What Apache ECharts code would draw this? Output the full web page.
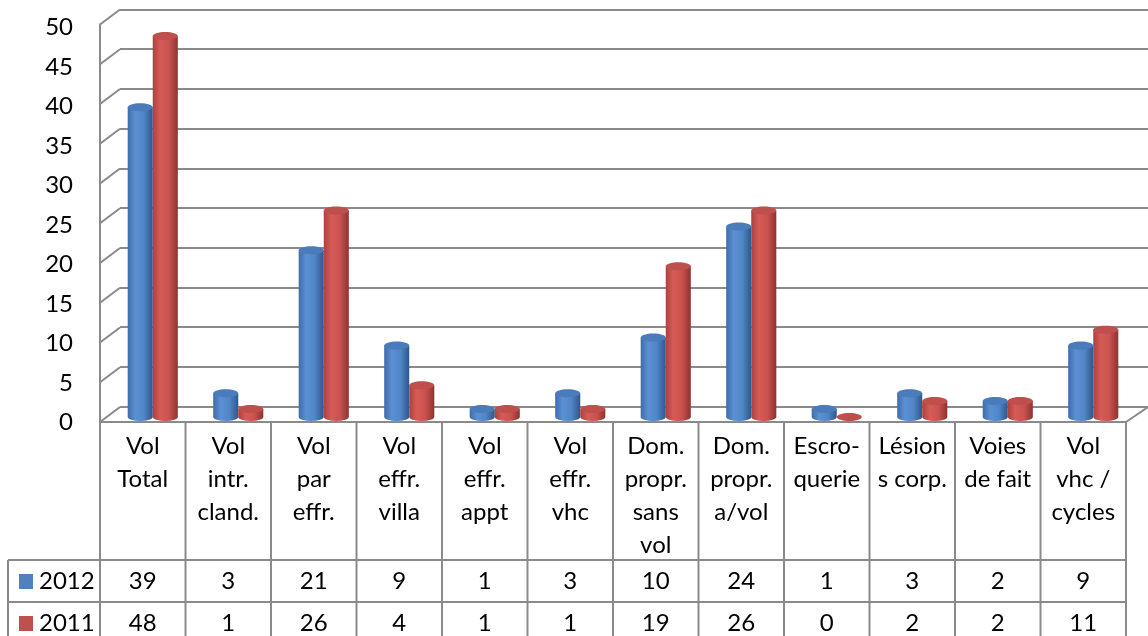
<!DOCTYPE html>
<html>
<head>
<meta charset="utf-8">
<script src="https://cdn.jsdelivr.net/npm/echarts@6/dist/echarts.min.js"></script>
<style>
html, body { margin: 0; padding: 0; background: #fff; }
#chart { width: 1148px; height: 636px; }
</style>
</head>
<body>
<div id="chart"></div>
<script>
// données
var categories = ['Vol\nTotal', 'Vol\nintr.\ncland.', 'Vol\npar\neffr.', 'Vol\neffr.\nvilla', 'Vol\neffr.\nappt',
	'Vol\neffr.\nvhc', 'Dom.\npropr.\nsans\nvol', 'Dom.\npropr.\na/vol', 'Escro-\nquerie', 'Lésion\ns corp.',
	'Voies\nde fait', 'Vol\nvhc /\ncycles'];
var years = ['2012', '2011'];
var data2012 = [39, 3, 21, 9, 1, 3, 10, 24, 1, 3, 2, 9];
var data2011 = [48, 1, 26, 4, 1, 1, 19, 26, 0, 2, 2, 11];
var yTicks = [0, 5, 10, 15, 20, 25, 30, 35, 40, 45, 50];

var lineColor = '#8a8a8a';
var font = 'Lato, "Noto Sans", sans-serif';
var colors = ['#4f81bd', '#c0504d'];

// mise en page du tableau
var tableLeft = 100, tableRight = 1126;
var colW = (tableRight - tableLeft) / categories.length;
var headTop = 422, headBottom = 560, rowH = 42, legendLeft = 8;

/**
 * cylindre 3D (style Excel)
 */
function cylinder(offset, stops, capColor) {
	return function(params, api) {
		var cat = api.value(0), v = api.value(1);
		var top = api.coord([cat, v]);
		var base = api.coord([cat, 0]);
		var bw = api.size([1, 0])[0] * 0.293;
		var x0 = top[0] + offset * bw, x1 = x0 + bw, rx = bw / 2, ry = 4;
		var children = [];
		if(base[1] - top[1] > 0.5) {
			children.push({
				type: 'path',
				shape: {
					pathData: 'M' + x0 + ' ' + top[1] + 'L' + x0 + ' ' + base[1] +
						'A' + rx + ' ' + ry + ' 0 0 0 ' + x1 + ' ' + base[1] +
						'L' + x1 + ' ' + top[1] + 'Z'
				},
				style: { fill: new echarts.graphic.LinearGradient(0, 0, 1, 0, stops) }
			});
		}
		children.push({
			type: 'ellipse',
			shape: { cx: x0 + rx, cy: top[1], rx: rx, ry: ry },
			style: { fill: capColor }
		});
		return { type: 'group', children: children };
	};
}

var blueStops = [{offset: 0, color: '#3e6ca8'}, {offset: 0.3, color: '#5b90d4'}, {offset: 0.65, color: '#5085c6'}, {offset: 1, color: '#2f578b'}];
var redStops = [{offset: 0, color: '#a9423f'}, {offset: 0.3, color: '#d65b57'}, {offset: 0.65, color: '#c9524f'}, {offset: 1, color: '#8c3330'}];

// tableau de données (graphic)
var g = [];
function line(x1, y1, x2, y2) {
	g.push({ type: 'line', shape: { x1: x1, y1: y1, x2: x2, y2: y2 }, style: { stroke: lineColor, lineWidth: 2 }, z: 10 });
}
function text(str, x, y, align, vAlign) {
	g.push({ type: 'text', x: x, y: y, z: 11, style: { text: str, font: '24px ' + font, fill: '#000',
		align: align, verticalAlign: vAlign, lineHeight: 33 } });
}
// plancher
line(tableLeft, headTop, tableRight, headTop);
line(tableRight, headTop, 1148, headTop - 15);
// lignes horizontales
line(legendLeft, headBottom, tableRight, headBottom);
line(legendLeft, headBottom + rowH, tableRight, headBottom + rowH);
line(legendLeft, headBottom + 2 * rowH, tableRight, headBottom + 2 * rowH);
line(legendLeft, headBottom, legendLeft, 636);
for(var i = 0; i <= categories.length; i++) {
	line(tableLeft + i * colW, headTop, tableLeft + i * colW, 636);
}
var series = [data2012, data2011];
for(var i = 0; i < categories.length; i++) {
	var cx = tableLeft + (i + 0.5) * colW;
	text(categories[i], cx, headTop + 8, 'center', 'top');
	for(var j = 0; j < years.length; j++) {
		text(String(series[j][i]), cx, headBottom + (j + 0.5) * rowH, 'center', 'middle');
	}
}
for(var j = 0; j < years.length; j++) {
	var cy = headBottom + (j + 0.5) * rowH;
	g.push({ type: 'rect', shape: { x: 19, y: cy - 7, width: 14, height: 15 }, style: { fill: colors[j] }, z: 11 });
	text(years[j], 39, cy, 'left', 'middle');
}

var myChart = echarts.init(document.getElementById('chart'));
var option = {
	animation: false,
	backgroundColor: '#fff',
	grid: [
		// barres
		{ left: 110, right: 12, top: 20, bottom: 219 },
		// mur du fond
		{ left: 120, right: 0, top: 9.5, bottom: 229.5 },
		// arête avant gauche
		{ left: 100, right: 22, top: 24.5, bottom: 214 },
		// étiquettes de l'axe
		{ left: 100, right: 22, top: 27.5, bottom: 213.5 }
	],
	xAxis: [
		{ type: 'category', gridIndex: 0, data: categories, show: false },
		{ type: 'value', gridIndex: 1, min: 0, max: 1, show: false },
		{ type: 'value', gridIndex: 2, min: 0, max: 1, show: false },
		{ type: 'value', gridIndex: 3, min: 0, max: 1, show: false }
	],
	yAxis: [
		{ type: 'value', gridIndex: 0, min: 0, max: 50, interval: 5, show: false },
		{
			type: 'value', gridIndex: 1, min: 0, max: 50, interval: 5,
			axisLine: { show: false }, axisTick: { show: false }, axisLabel: { show: false },
			splitLine: { show: true, lineStyle: { color: lineColor, width: 2 } }
		},
		{
			type: 'value', gridIndex: 2, min: 0, max: 50, interval: 5,
			axisLine: { show: true, lineStyle: { color: lineColor, width: 2 } },
			axisTick: { show: false }, axisLabel: { show: false },
			splitLine: { show: false }
		},
		{
			type: 'value', gridIndex: 3, min: 0, max: 50, interval: 5,
			axisLine: { show: false }, axisTick: { show: false }, splitLine: { show: false },
			axisLabel: { margin: 27, fontFamily: font, fontSize: 24, color: '#000' }
		}
	],
	series: [
		{
			name: years[0], type: 'custom', xAxisIndex: 0, yAxisIndex: 0, z: 5,
			renderItem: cylinder(-1, blueStops, '#4a7cbc'),
			data: data2012.map(function(v, i) { return [i, v]; })
		},
		{
			name: years[1], type: 'custom', xAxisIndex: 0, yAxisIndex: 0, z: 5,
			renderItem: cylinder(0, redStops, '#bf4f4c'),
			data: data2011.map(function(v, i) { return [i, v]; })
		},
		{
			// diagonales du mur gauche
			type: 'custom', xAxisIndex: 2, yAxisIndex: 2, z: 3, silent: true,
			renderItem: function(params, api) {
				var p = api.coord([0, api.value(1)]);
				return { type: 'line', shape: { x1: p[0], y1: p[1], x2: p[0] + 20, y2: p[1] - 15 },
					style: { stroke: lineColor, lineWidth: 2 } };
			},
			data: yTicks.map(function(v) { return [0, v]; })
		}
	],
	graphic: g
};
myChart.setOption(option);
</script>
</body>
</html>
